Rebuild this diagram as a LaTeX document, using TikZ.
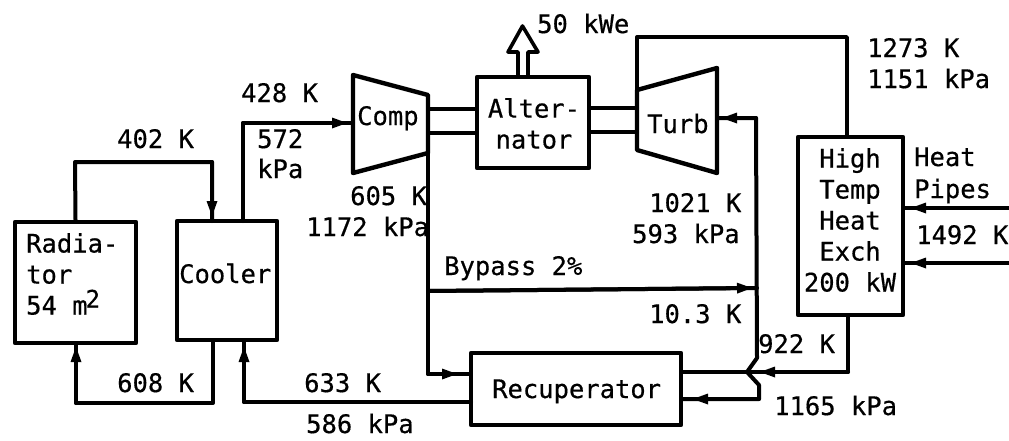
\documentclass[tikz,border=0pt]{standalone}
\usepackage{fontspec}
\setmonofont[FakeBold=0.5]{DejaVu Sans Mono}
\usetikzlibrary{arrows.meta}
\tikzset{
  every node/.style={font=\fontsize{25.5}{31}\selectfont\ttfamily},
  pipe/.style={line width=4pt,line join=round,line cap=round},
  flow/.style={pipe,-{Triangle[length=15pt,width=11pt,line width=0pt,sep=0pt]}},
  unit/.style={draw,line width=4.4pt,line join=round,inner sep=0pt},
  lbl/.style={anchor=base west,inner sep=0pt},
  boxtext/.style={inner sep=0pt,align=center},
}
\begin{document}
\begin{tikzpicture}[x=1pt,y=-1pt]
\useasboundingbox (0,0) rectangle (1009,440);
% units
\node[unit,minimum width=121pt,minimum height=121pt] (rad) at (75.5,282.5) {};
\node[unit,minimum width=100pt,minimum height=119pt] (cool) at (227,280.5) {};
\node[unit,minimum width=112pt,minimum height=91pt] (alt) at (533,122.5) {};
\node[unit,minimum width=105pt,minimum height=178pt] (hx) at (850.5,226) {};
\node[unit,minimum width=210pt,minimum height=72pt] (rec) at (576,389) {};
\draw[line width=4.4pt,line join=round] (353,75) coordinate (c1) -- (428,95) coordinate (c2) -- (428,153) coordinate (c3) -- (353,173) coordinate (c4) -- cycle;
\draw[line width=4.4pt,line join=round] (637,90) coordinate (t1) -- (717,68) coordinate (t2) -- (717,173) coordinate (t3) -- (637,150) coordinate (t4) -- cycle;
% unit texts
\node[boxtext,align=left,anchor=west] (radt) at (26,274) {Radia-\\tor\\54 m\raisebox{7pt}{\hspace{-2pt}\fontsize{24}{24}\selectfont 2}};
\node[lbl] (coolt) at (179,283) {Cooler};
\node[lbl] (compt) at (357,125) {Comp};
\node[boxtext] (altt) at (534,123.5) {Alter-\\nator};
\node[lbl] (turbt) at (647,133) {Turb};
\node[boxtext] (hxt) at (850,220) {High\\Temp\\Heat\\Exch\\200 kW};
\node[lbl] (rect) at (492,398) {Recuperator};
% shafts
\draw[pipe] (c2 |- 0,109) -- (alt.west |- 0,109);
\draw[pipe] (c2 |- 0,133) -- (alt.west |- 0,133);
\draw[pipe] (alt.east |- 0,108) -- (t1 |- 0,108);
\draw[pipe] (alt.east |- 0,132) -- (t1 |- 0,132);
% power arrow
\draw[line width=3.6pt,line join=round] (518,77) -- (518,52) -- (508,52) -- (522.5,26) -- (538,52) -- (528,52) -- (528,77);
% radiator to cooler
\coordinate (coolin) at (212,221);
\coordinate (a1) at (212,216);
\draw[pipe] (rad.north) -- (75,162) -- (212,162) -- (coolin);
\draw[flow] (212,162) -- (a1);
% cooler to compressor
\coordinate (coolout) at (243,221);
\coordinate (a2) at (347,123);
\draw[pipe] (coolout) -- (243,123) -- (353,123);
\draw[flow] (243,123) -- (a2);
% cooler to radiator
\coordinate (coolret) at (213,340);
\coordinate (a3) at (76,347);
\draw[pipe] (coolret) -- (213,403) -- (76,403) -- (rad.south -| a3);
\draw[flow] (76,403) -- (a3);
% recuperator to cooler
\coordinate (recl) at (471,402);
\coordinate (a4) at (244,347);
\draw[pipe] (recl) -- (244,402) -- (cool.south -| a4);
\draw[flow] (244,402) -- (a4);
% compressor outlet to recuperator
\coordinate (a5) at (457,374);
\draw[pipe] (c3) -- (428,374) -- (rec.west |- a5);
\draw[flow] (428,374) -- (a5);
% bypass
\coordinate (bp) at (428,291);
\coordinate (bq) at (757,288);
\coordinate (a6) at (752,288);
\draw[pipe] (bp) -- (bq);
\draw[flow] (bp) -- (a6);
% recuperator to turbine with crossover
\coordinate (a7) at (722,118);
\coordinate (a8) at (693,399);
\draw[pipe] (681,399) -- (759,399) -- (759,385) -- (747,372) -- (757,358) -- (756,118) -- (717,118);
\draw[flow] (756,118) -- (a7);
\draw[flow] (759,399) -- (a8);
% hx to recuperator
\coordinate (a9) at (760,372);
\draw[pipe] (848,315) -- (848,372) -- (681,372);
\draw[flow] (848,372) -- (a9);
% hx to turbine
\draw[line width=3.4pt,line join=round] (t1) -- (637,37) -- (847,37) -- (847,137);
% heat pipes
\coordinate (h1) at (1009,208);
\coordinate (h2) at (1009,263);
\coordinate (h1a) at (911,208);
\coordinate (h2a) at (911,263);
\draw[pipe] (h1) -- (hx.east |- h1a);
\draw[flow] (h1) -- (h1a);
\draw[pipe] (h2) -- (hx.east |- h2a);
\draw[flow] (h2) -- (h2a);
% labels
\node[lbl] (l1) at (117,148) {402 K};
\node[lbl] (l2) at (241,102) {428 K};
\node[lbl] (l3) at (257,148) {572};
\node[lbl] (l4) at (257,178) {kPa};
\node[lbl] (l5) at (350,205) {605 K};
\node[lbl] (l6) at (306,236) {1172 kPa};
\node[lbl] (l7) at (117,392) {608 K};
\node[lbl] (l8) at (304,392) {633 K};
\node[lbl] (l9) at (306,433) {586 kPa};
\node[lbl] (l10) at (537,33) {50 kWe};
\node[lbl] (l11) at (867,57) {1273 K};
\node[lbl] (l12) at (867,88) {1151 kPa};
\node[lbl] (l13) at (914,166) {Heat};
\node[lbl] (l14) at (914,198) {Pipes};
\node[lbl] (l15) at (916,244) {1492 K};
\node[lbl] (l16) at (649,212) {1021 K};
\node[lbl] (l17) at (632,243) {593 kPa};
\node[lbl] (l18) at (649,323) {10.3 K};
\node[lbl] (l19) at (444,275) {Bypass 2\%};
\node[lbl] (l20) at (758,353) {922 K};
\node[lbl] (l21) at (774,415) {1165 kPa};
\end{tikzpicture}
\end{document}
